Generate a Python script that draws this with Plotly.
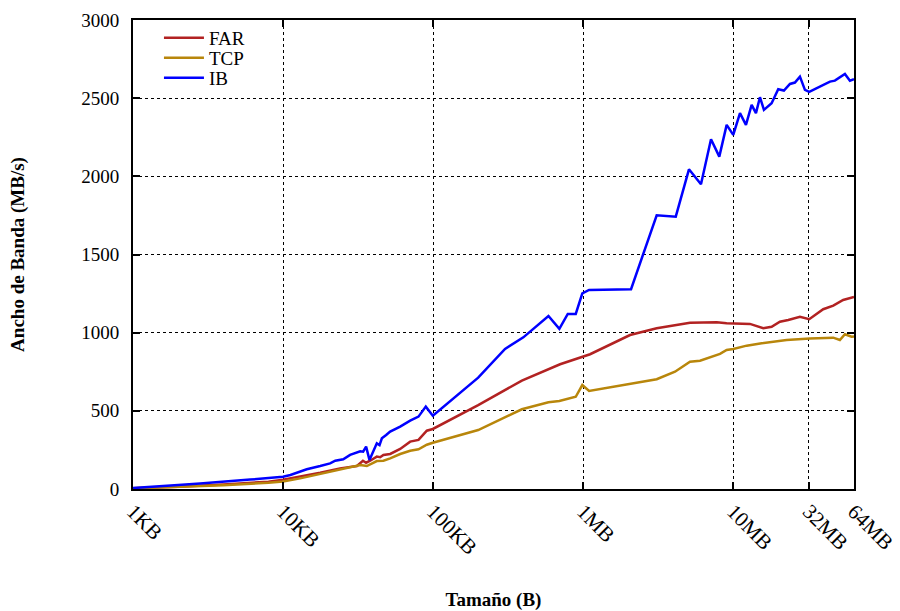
import numpy as np
import plotly.graph_objects as go

# Message size (KB) and bandwidth (MB/s) for each transport
ib_size_kb = [1, 1.3, 2, 2.8, 4, 6.05, 8, 10, 11.2, 13, 14.4, 17.7, 20.6, 22.3, 25.2,
              28, 31.1, 32.7, 34.2, 35.8, 37.7, 42.2, 44, 45.6, 48.7, 51.8, 60.4, 70.4,
              80, 89.5, 99.7, 200, 302, 400, 588, 695, 791, 894, 989, 1097, 2089, 3097,
              4150, 5082, 6112, 7129, 8095, 9064, 10030, 11120, 12190, 13300, 14210,
              15110, 16060, 18070, 20000, 21830, 23950, 25840, 27910, 30140, 32190,
              37920, 44250, 47720, 55670, 60130, 64000]
ib_bw = [6, 12, 25, 35, 45, 60, 70, 79, 90, 111, 126, 147, 164, 181, 190,
         218, 232, 241, 239, 271, 186, 292, 281, 324, 345, 367, 399, 437,
         463, 527, 469, 712, 896, 970, 1107, 1024, 1120, 1120, 1252, 1273, 1278, 1751,
         1742, 2045, 1949, 2237, 2126, 2329, 2265, 2404, 2329, 2457, 2404,
         2506, 2425, 2468, 2557, 2549, 2591, 2600, 2638, 2553, 2540,
         2574, 2606, 2612, 2655, 2612, 2621]

far_size_kb = [1, 2, 4, 8, 10, 13, 17.7, 24, 31.1, 34.1, 35.8, 38.1, 42.2, 44.4, 46.7,
               51.8, 60.4, 70.4, 80, 90.9, 99.7, 200, 391, 703, 908, 1114, 2057, 3097,
               5164, 7780, 9064, 11120, 12960, 15900, 18070, 20530, 23330, 27910,
               32190, 39900, 46560, 54200, 64000]
far_bw = [5, 14, 28, 47, 60, 79, 104, 132, 147, 181, 168, 181, 207, 203, 218,
          224, 256, 303, 314, 373, 384, 537, 693, 798, 832, 862, 985, 1028,
          1064, 1066, 1060, 1060, 1056, 1028, 1038, 1070, 1081, 1102,
          1086, 1150, 1173, 1209, 1228]

tcp_size_kb = [1, 2, 4, 8, 10, 13, 17.7, 24, 32.7, 36.2, 39.1, 42.2, 46.7, 51.8, 60.4,
               70.4, 80, 90.9, 99.7, 200, 391, 492, 588, 695, 894, 989, 1097, 3097,
               4101, 5164, 6021, 8185, 9064, 10030, 12320, 15520, 18530, 22750,
               32510, 46560, 51520, 55670, 61640, 64000]
tcp_bw = [4, 12, 24, 40, 48, 68, 96, 126, 154, 147, 164, 179, 181, 196, 224,
          245, 254, 283, 296, 377, 510, 537, 555, 563, 590, 665, 627, 702,
          750, 814, 821, 864, 889, 896, 917, 932, 940, 953,
          962, 968, 953, 990, 974, 976]

tick_vals_kb = [1, 10, 100, 1000, 10000, 32000, 64000]
tick_text = ["1KB", "10KB", "100KB", "1MB", "10MB", "32MB", "64MB"]
y_ticks = [0, 500, 1000, 1500, 2000, 2500, 3000]

FONT = "Liberation Serif"

fig = go.Figure()
# one legend box per series so the rows sit at fixed heights
series = [
    ("FAR", far_size_kb, far_bw, "#B22222", "legend", 0.9616),
    ("TCP", tcp_size_kb, tcp_bw, "#B8860B", "legend2", 0.919),
    ("IB", ib_size_kb, ib_bw, "#0000FF", "legend3", 0.8763),
]
legend_layout = {}
for name, xs, ys, color, leg, ypos in series:
    fig.add_trace(go.Scatter(x=xs, y=ys, mode="lines", name=name, legend=leg,
                             showlegend=True,
                             line=dict(color=color, width=2.5)))
    legend_layout[leg] = dict(x=0.036, y=ypos, xanchor="left", yanchor="middle",
                              bgcolor="rgba(0,0,0,0)",
                              font=dict(family=FONT, size=19, color="black"),
                              itemwidth=40)

axis_common = dict(
    showline=True, linecolor="black", linewidth=2, mirror="ticks",
    ticks="inside", ticklen=7, tickwidth=2, tickcolor="black",
    showgrid=True, gridcolor="black", gridwidth=1, griddash="dot",
    zeroline=False,
)

fig.update_xaxes(type="log", range=[0, np.log10(64000)],
                 tickvals=tick_vals_kb, ticktext=tick_text, tickangle=45,
                 tickfont=dict(family=FONT, size=21, color="black"),
                 title=dict(text="<b>Tamaño (B)</b>", standoff=36,
                            font=dict(family=FONT, size=19, color="black")),
                 **axis_common)
fig.update_yaxes(range=[0, 3000], tickvals=y_ticks, ticklabelstandoff=8,
                 tickfont=dict(family=FONT, size=19, color="black"),
                 title=dict(text="<b>Ancho de Banda (MB/s)</b>", standoff=52,
                            font=dict(family=FONT, size=19, color="black")),
                 **axis_common)

fig.update_layout(
    width=900, height=611,
    margin=dict(l=133, r=46, t=20, b=122, autoexpand=False),
    plot_bgcolor="white", paper_bgcolor="white",
    font=dict(family=FONT, color="black"),
    showlegend=True,
    **legend_layout,
)

fig.write_html("out.html")
